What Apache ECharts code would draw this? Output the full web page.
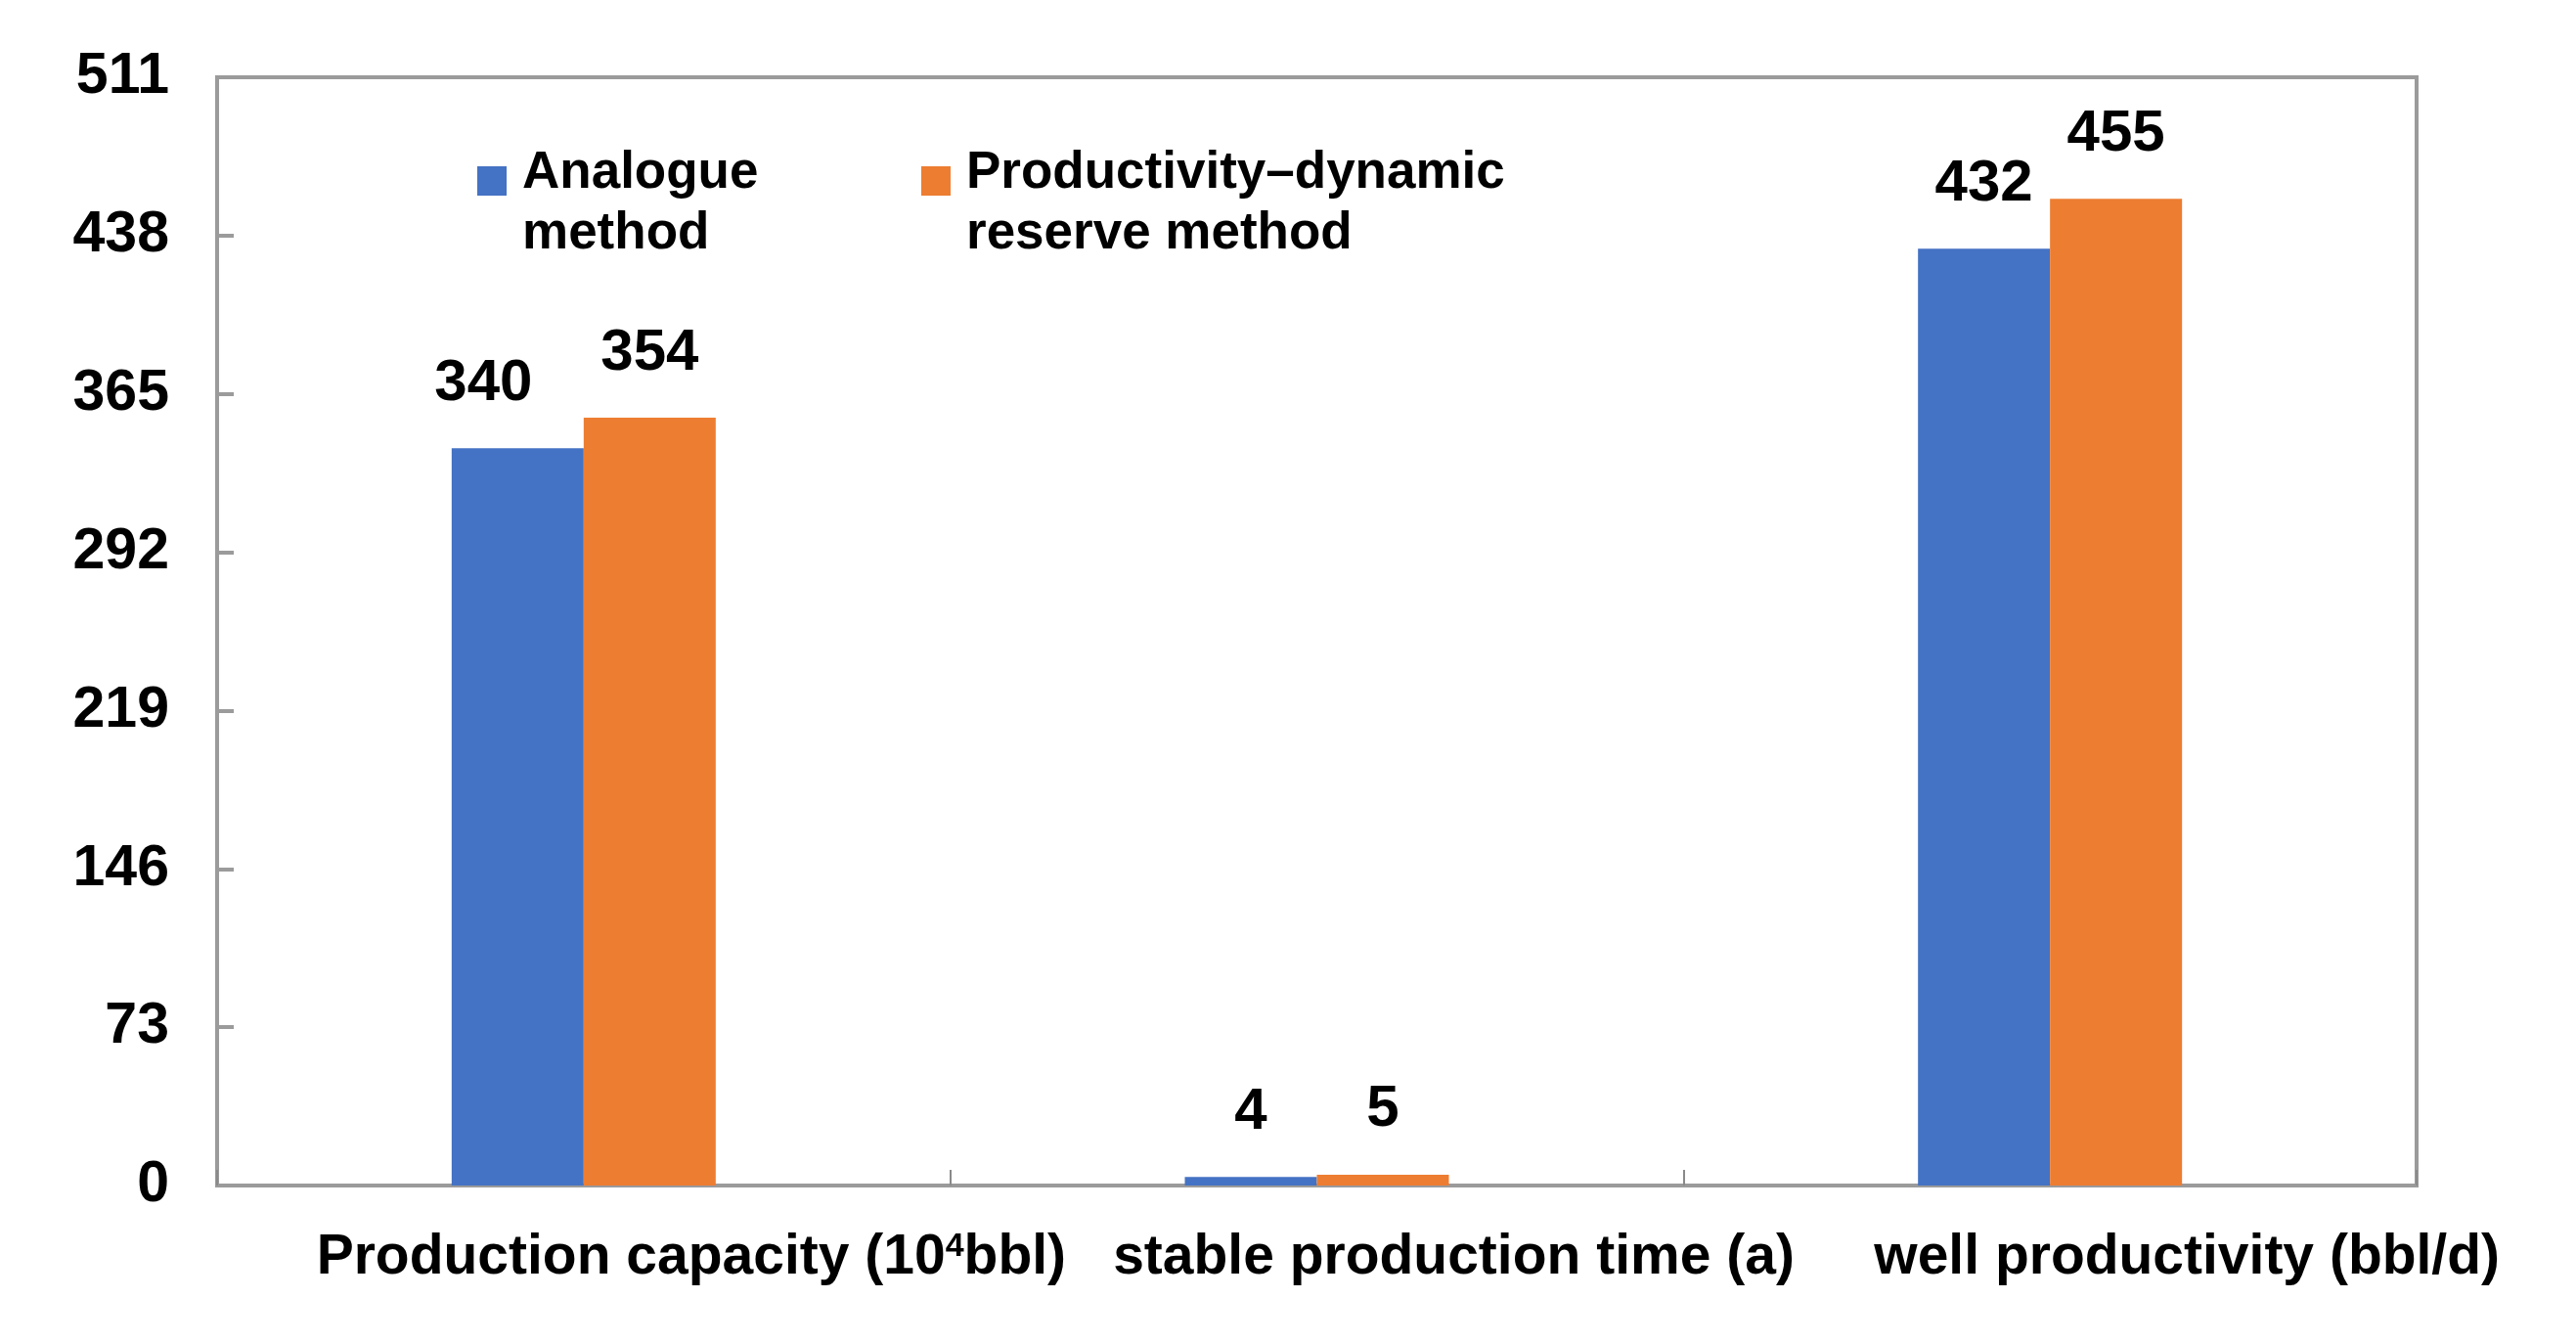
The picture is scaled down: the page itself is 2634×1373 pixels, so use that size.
<!DOCTYPE html>
<html>
<head>
<meta charset="utf-8">
<script src="https://cdn.jsdelivr.net/npm/echarts@6/dist/echarts.min.js"></script>
<style>
html,body{margin:0;padding:0;background:#fff;}
#chart{width:2634px;height:1373px;}
</style>
</head>
<body>
<div id="chart"></div>
<script>
const categories = ['Production capacity (10⁴bbl)', 'stable production time (a)', 'well productivity (bbl/d)'];
const seriesNames = ['Analogue method', 'Productivity–dynamic reserve method'];
const legendLines = [['Analogue', 'method'], ['Productivity–dynamic', 'reserve method']];
const analogueValues = [340, 4, 432];
const reserveValues = [354, 5, 455];
const yTicks = [0, 73, 146, 219, 292, 365, 438, 511];

const FONT = "'Liberation Sans', Arial, sans-serif";
const AXIS_GRAY = '#9b9b9b';
const labelPads = [220, 280, 280];

const chart = echarts.init(document.getElementById('chart'));

function legendFor(idx, left) {
  return {
    data: [seriesNames[idx]],
    left: left,
    top: 118,
    padding: 0,
    icon: 'rect',
    itemWidth: 30,
    itemHeight: 30,
    selectedMode: false,
    formatter: function (name) {
      const lines = legendLines[seriesNames.indexOf(name)];
      return '{s| }\n{t|' + lines[0] + '}\n{t|' + lines[1] + '}';
    },
    textStyle: {
      fontFamily: FONT, fontSize: 53, fontWeight: 'bold', color: '#000',
      padding: [0, 0, 0, 11],
      rich: {
        s: { fontSize: 10, lineHeight: 46 },
        t: { fontFamily: FONT, fontSize: 53, fontWeight: 'bold', color: '#000', lineHeight: 62 }
      }
    }
  };
}

const option = {
  backgroundColor: '#fff',
  animation: false,
  legend: [legendFor(0, 488), legendFor(1, 942)],
  grid: {
    left: 222, right: 163, top: 79, bottom: 161,
    show: true, borderColor: AXIS_GRAY, borderWidth: 4, backgroundColor: 'transparent'
  },
  xAxis: {
    type: 'category',
    data: categories.map(function (c, i) {
      return { value: c, textStyle: { padding: [0, 0, 0, labelPads[i]] } };
    }),
    axisLine: { show: true, lineStyle: { color: AXIS_GRAY, width: 4 } },
    axisTick: { show: true, inside: true, length: 16, lineStyle: { color: '#8a8a8a', width: 2 } },
    axisLabel: {
      interval: 0,
      margin: 46,
      color: '#000',
      fontFamily: FONT,
      fontSize: 57,
      fontWeight: 'bold',
      formatter: function (v) {
        return '{a|' + v.replace('⁴', '}{sup|4}{a|') + '}';
      },
      rich: {
        a: { fontFamily: FONT, fontSize: 57, fontWeight: 'bold', color: '#000' },
        sup: { fontFamily: FONT, fontSize: 34, fontWeight: 'bold', color: '#000', verticalAlign: 'top', lineHeight: 34 }
      }
    },
    splitLine: { show: false }
  },
  yAxis: {
    type: 'value',
    min: yTicks[0],
    max: yTicks[yTicks.length - 1],
    interval: yTicks[1] - yTicks[0],
    axisLine: { show: true, lineStyle: { color: AXIS_GRAY, width: 4 } },
    axisTick: { show: true, inside: true, length: 17, lineStyle: { color: AXIS_GRAY, width: 4 } },
    axisLabel: { margin: 49, color: '#000', fontFamily: FONT, fontSize: 59, fontWeight: 'bold' },
    splitLine: { show: false }
  },
  series: [
    {
      name: seriesNames[0],
      type: 'bar',
      data: analogueValues.map(function (v, i) {
        return i === 0 ? { value: v, label: { offset: [-35, 0] } } : v;
      }),
      barWidth: 135,
      barGap: '0%',
      itemStyle: { color: '#4472C4' },
      label: { show: true, position: 'top', distance: 36, color: '#000', fontFamily: FONT, fontSize: 60, fontWeight: 'bold' }
    },
    {
      name: seriesNames[1],
      type: 'bar',
      data: reserveValues,
      barWidth: 135,
      barGap: '0%',
      itemStyle: { color: '#ED7D31' },
      label: { show: true, position: 'top', distance: 36, color: '#000', fontFamily: FONT, fontSize: 60, fontWeight: 'bold' }
    }
  ]
};

chart.setOption(option);
</script>
</body>
</html>
